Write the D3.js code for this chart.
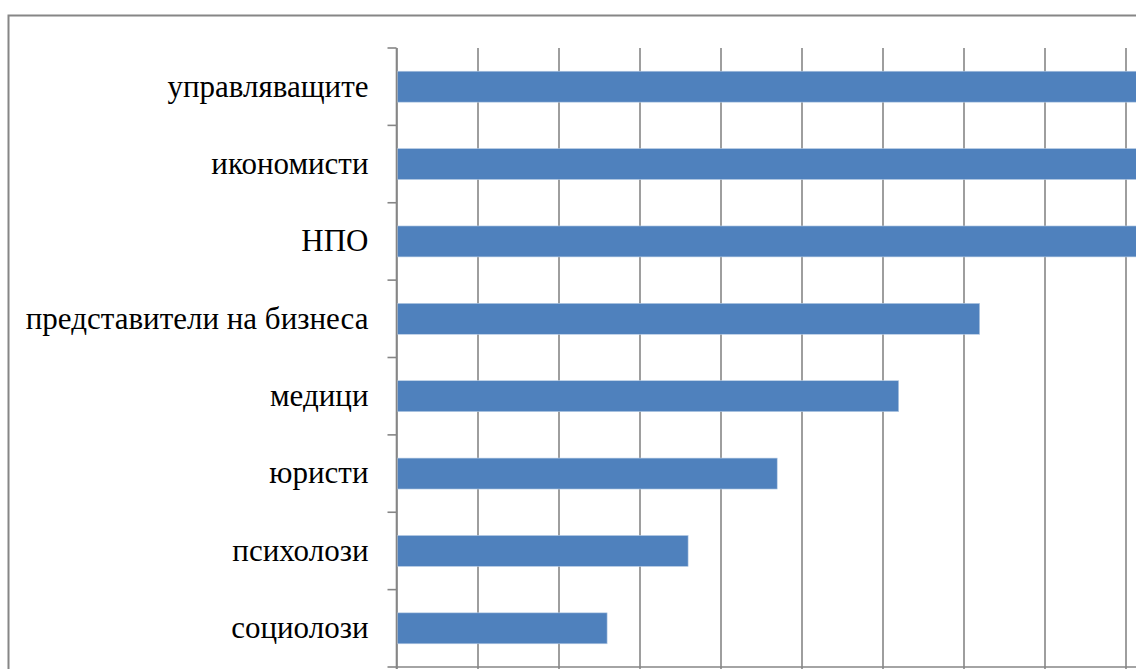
<!DOCTYPE html>
<html>
<head>
<meta charset="utf-8">
<script src="https://cdn.jsdelivr.net/npm/d3@7"></script>
<style>
  html, body { margin: 0; padding: 0; background: #fff; overflow: hidden; }
  svg { display: block; }
</style>
</head>
<body>
<svg id="chart" width="1136" height="669"></svg>
<script>
// Data (top to bottom)
const categories = ["управляващите", "икономисти", "НПО", "представители на бизнеса", "медици", "юристи", "психолози", "социолози"];
const values = [55, 52, 50, 36, 31, 23.5, 18, 13];
const xTicks = [0, 5, 10, 15, 20, 25, 30, 35, 40, 45, 50];

const W = 1136, H = 669;
const margin = { left: 396.5, top: 48, plotBottom: 667, plotRight: 1206.5 };

const svg = d3.select("#chart");

// outer chart border (extends beyond the visible frame)
svg.append("rect")
  .attr("x", 8.5).attr("y", 15.5)
  .attr("width", 1400).attr("height", 800)
  .attr("fill", "#fff")
  .attr("stroke", "#868686").attr("stroke-width", 2);

const x = d3.scaleLinear().domain([0, 50]).range([margin.left, margin.plotRight]);
const y = d3.scaleBand().domain(categories).range([margin.top, margin.plotBottom]).paddingInner(0).paddingOuter(0);
const plotH = margin.plotBottom - margin.top;

// vertical gridlines + bottom axis
const xAxis = d3.axisBottom(x).tickValues(xTicks).tickSize(-plotH).tickFormat("");
const gx = svg.append("g").attr("transform", `translate(0,${margin.plotBottom})`).call(xAxis);
gx.selectAll(".tick line").attr("stroke", "#868686").attr("stroke-width", 1.6).attr("y1", 8);
gx.select(".domain").remove();
svg.append("line")
  .attr("x1", x(0)).attr("x2", W + 10)
  .attr("y1", margin.plotBottom).attr("y2", margin.plotBottom)
  .attr("stroke", "#868686").attr("stroke-width", 1.6);

// bars
const barH = y.bandwidth() / 2.5;
svg.append("g").selectAll("rect").data(categories).join("rect")
  .attr("x", x(0) + 1)
  .attr("y", (d) => y(d) + (y.bandwidth() - barH) / 2)
  .attr("width", (d, i) => x(values[i]) - x(0) - 1)
  .attr("height", barH)
  .attr("fill", "#4F81BD")
  .attr("stroke", "#b9cde5").attr("stroke-width", 0.6);

// left category axis (ticks between categories)
const boundaries = categories.map(c => y(c)).concat([y.range()[1]]);
const gyTicks = svg.append("g");
gyTicks.append("line")
  .attr("x1", x(0)).attr("x2", x(0))
  .attr("y1", margin.top).attr("y2", margin.plotBottom + 8)
  .attr("stroke", "#868686").attr("stroke-width", 1.6);
gyTicks.selectAll("line.bt").data(boundaries).join("line")
  .attr("class", "bt")
  .attr("x1", x(0) - 9).attr("x2", x(0))
  .attr("y1", d => d).attr("y2", d => d)
  .attr("stroke", "#868686").attr("stroke-width", 1.6);

// category labels
const yAxis = d3.axisLeft(y).tickSize(0).tickPadding(28);
const gy = svg.append("g").attr("transform", `translate(${x(0)},0)`).call(yAxis);
gy.select(".domain").remove();
gy.selectAll("text")
  .style("font-family", "\"Liberation Serif\"")
  .style("font-size", "31px")
  .attr("fill", "#000");
</script>
</body>
</html>
